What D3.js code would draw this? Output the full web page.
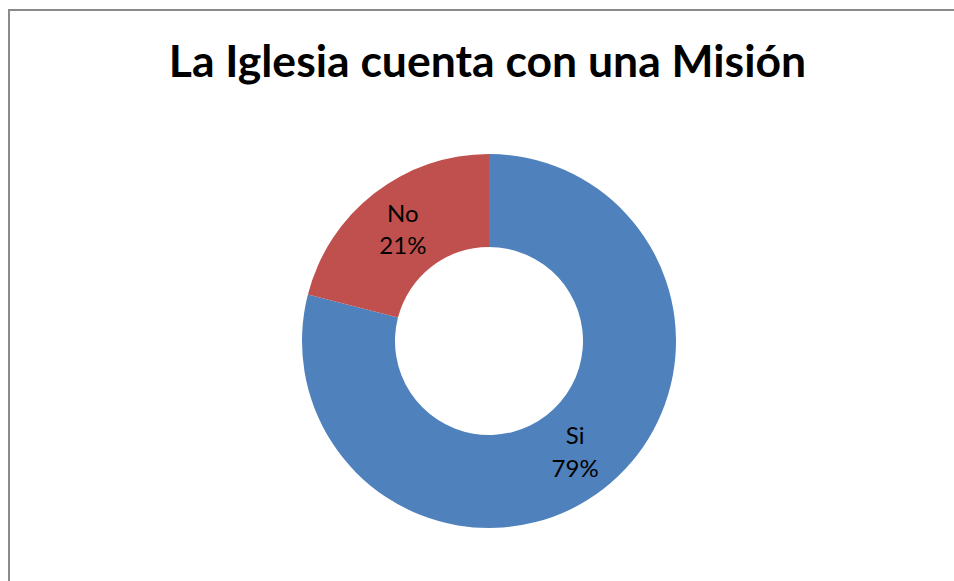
<!DOCTYPE html>
<html>
<head>
<meta charset="utf-8">
<script src="https://cdn.jsdelivr.net/npm/d3@7"></script>
<style>
  html, body { margin: 0; padding: 0; background: #fff; }
  svg { display: block; }
</style>
</head>
<body>
<svg id="chart" width="954" height="581"></svg>
<script>
// Survey answers and their shares (percent)
const categories = ["Si", "No"];
const values = [79, 21];
const colors = ["#4F81BD", "#C0504D"];
const title = "La Iglesia cuenta con una Misión";

const svg = d3.select("#chart");

// chart area frame (runs past the right and bottom edges of the view)
svg.append("rect")
  .attr("x", 9).attr("y", 10)
  .attr("width", 980).attr("height", 620)
  .attr("fill", "#fff")
  .attr("stroke", "#8a8a8a")
  .attr("stroke-width", 2);

svg.append("text")
  .attr("x", 487.5).attr("y", 77)
  .attr("text-anchor", "middle")
  .attr("font-family", "Lato, 'Open Sans', sans-serif")
  .attr("font-weight", 700)
  .attr("font-size", 44.5)
  .attr("fill", "#000")
  .text(title);

const cx = 489, cy = 341, rOuter = 187, rInner = 94;

const pie = d3.pie().sort(null).value(d => d.value);
const arc = d3.arc().innerRadius(rInner).outerRadius(rOuter);
const data = categories.map((c, i) => ({ cat: c, value: values[i], color: colors[i] }));
const arcs = pie(data);
const total = d3.sum(values);

const g = svg.append("g").attr("transform", `translate(${cx},${cy})`);

g.selectAll("path")
  .data(arcs)
  .join("path")
  .attr("d", arc)
  .attr("fill", d => d.data.color);

const labels = g.selectAll("g.lbl")
  .data(arcs)
  .join("g")
  .attr("class", "lbl")
  .attr("transform", d => `translate(${arc.centroid(d)})`);

labels.append("text")
  .attr("y", -8)
  .attr("text-anchor", "middle")
  .attr("font-family", "Lato, 'Open Sans', sans-serif")
  .attr("font-size", 24)
  .attr("fill", "#000")
  .text(d => d.data.cat);

labels.append("text")
  .attr("y", 24.5)
  .attr("text-anchor", "middle")
  .attr("font-family", "Lato, 'Open Sans', sans-serif")
  .attr("font-size", 24)
  .attr("fill", "#000")
  .text(d => Math.round(d.data.value / total * 100) + "%");
</script>
</body>
</html>
